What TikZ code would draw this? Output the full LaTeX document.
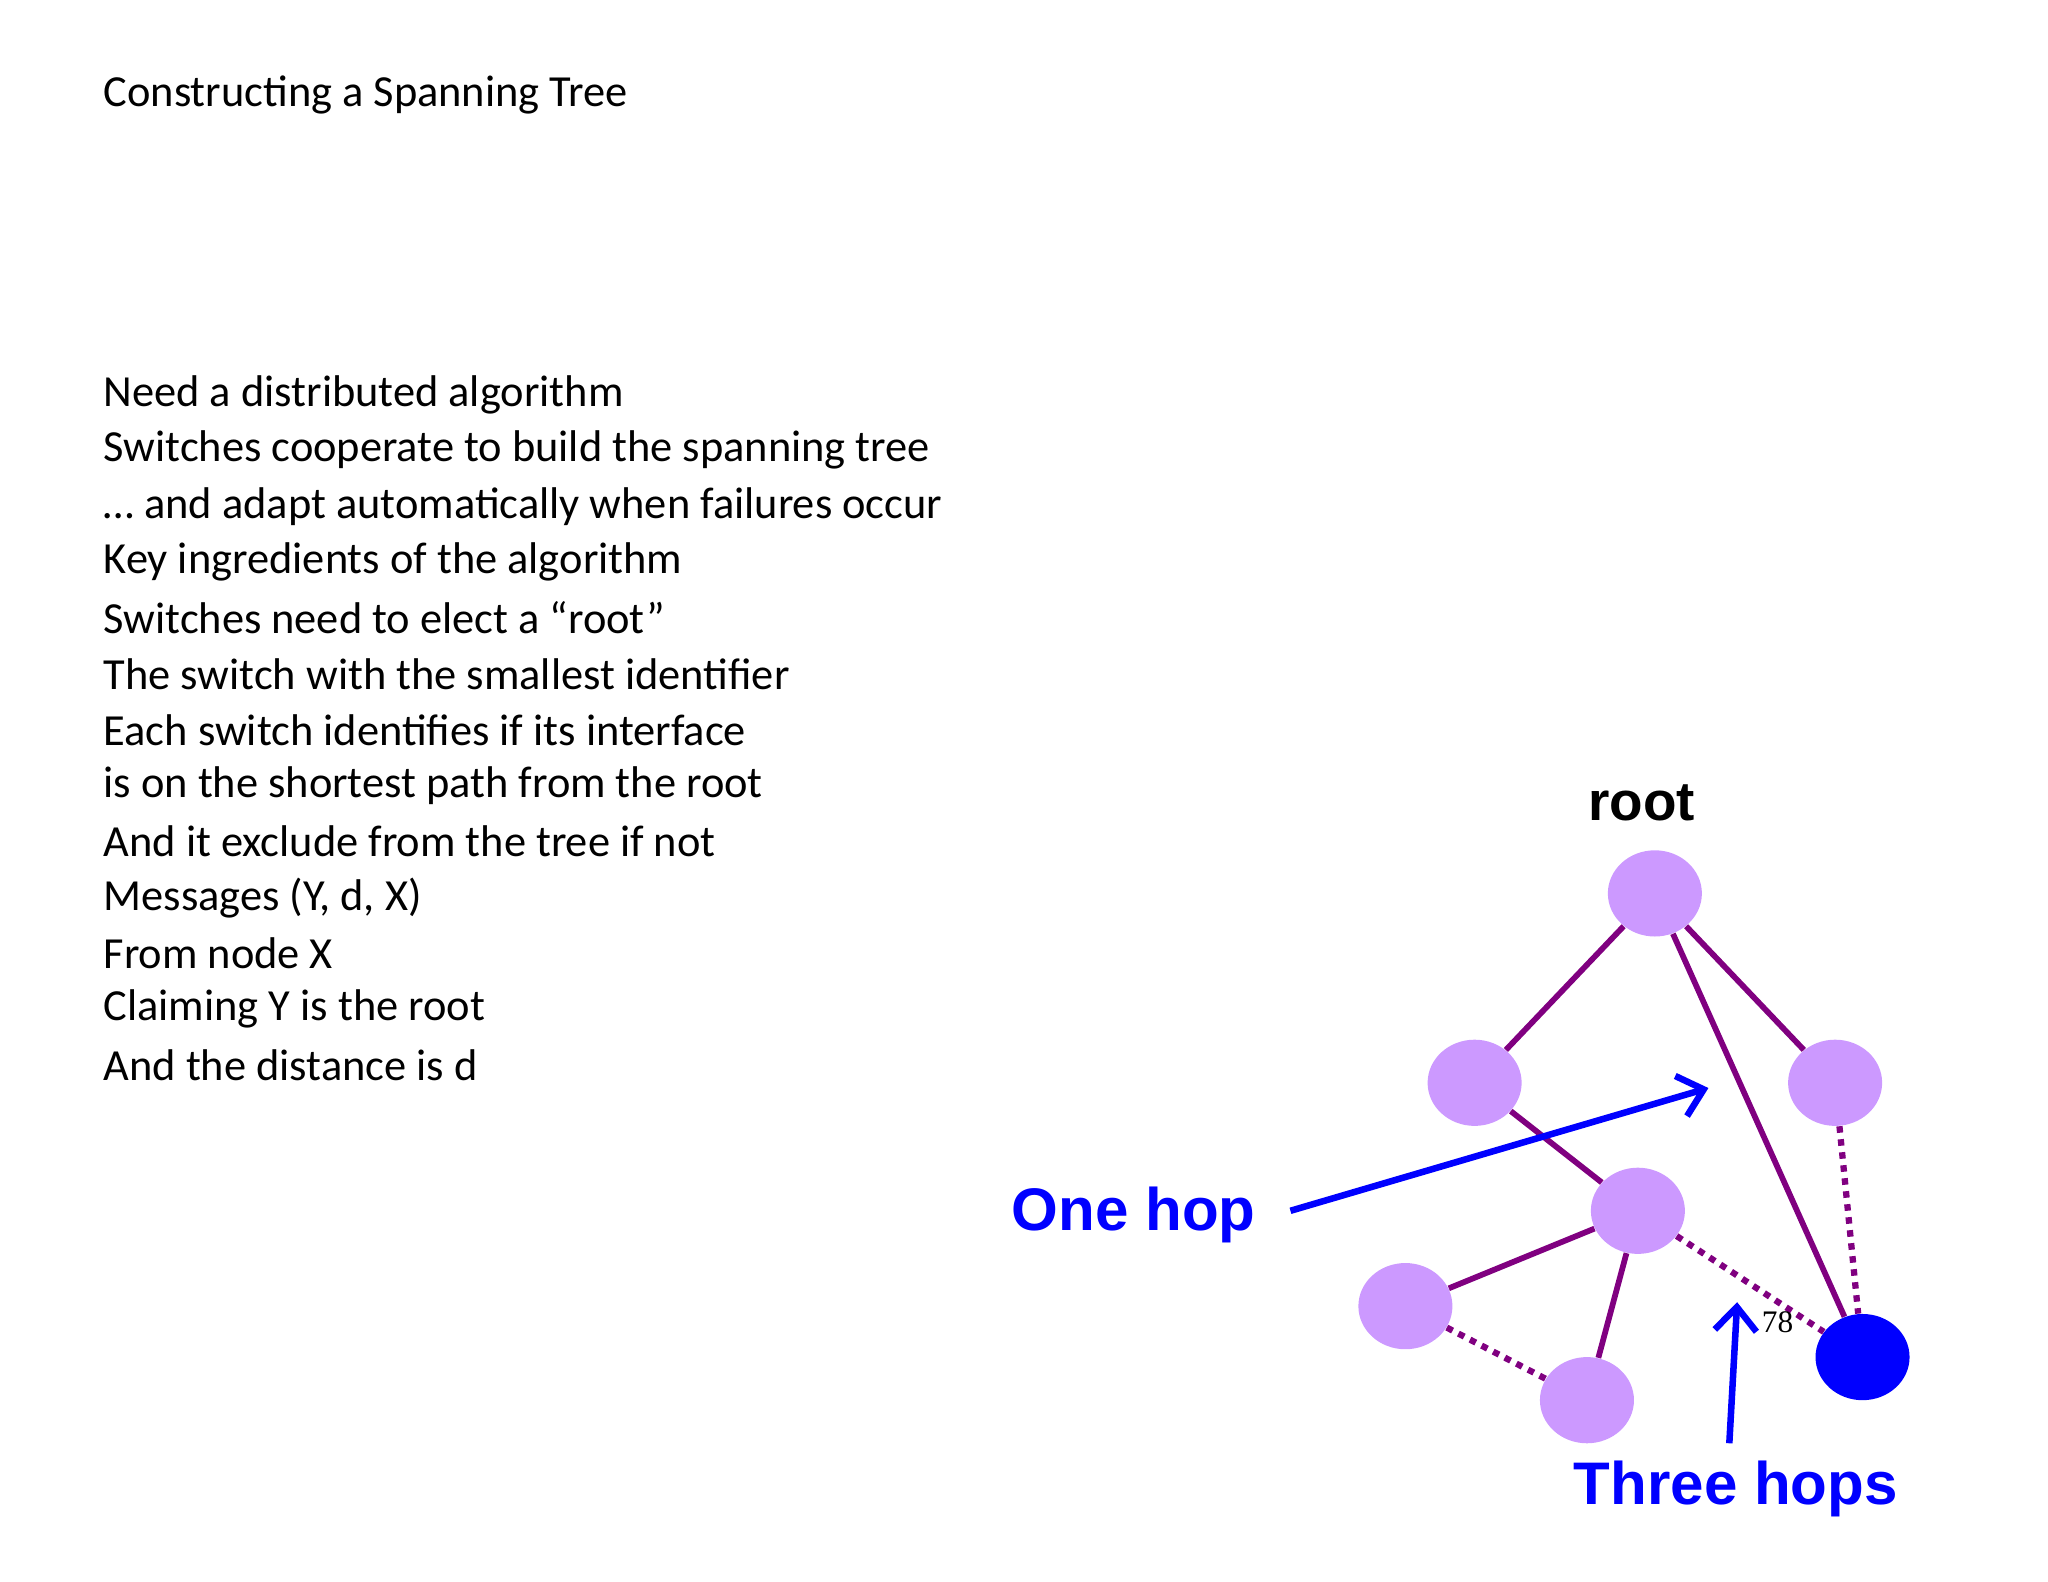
\documentclass[tikz,border=0pt]{standalone}
\usepackage{fontspec}
\setmainfont{Carlito}
\newfontfamily\helv{Liberation Sans}
\newfontfamily\tms{Liberation Serif}
\definecolor{lav}{RGB}{204,153,255}
\definecolor{pur}{RGB}{128,0,128}
\begin{document}
\begin{tikzpicture}[x=0.5pt,y=-0.5pt,
  sw/.style={ellipse,fill=lav,minimum width=36pt,minimum height=33pt,inner sep=0pt},
  edge/.style={pur,line width=2.2pt},
  dedge/.style={pur,line width=2.4pt,dash pattern=on 2.5pt off 2.5pt},
  lbl/.style={blue,font=\helv\bfseries\fontsize{23}{27}\selectfont},
  barrow/.style={blue,line width=2.5pt,-{Straight Barb[length=9pt,width=16pt,line width=2.5pt]}},
  txt/.style={anchor=west,font=\fontsize{17}{21}\selectfont,inner sep=0pt}]
\usetikzlibrary{shapes.geometric,arrows.meta}
\useasboundingbox (0,0) rectangle (1568,1211);
\node[txt] (title) at (79,73) {Constructing a Spanning Tree};
\foreach \t [count=\i from 0] in {Need a distributed algorithm,Switches cooperate to build the spanning tree,{\ldots} and adapt automatically when failures occur,Key ingredients of the algorithm,Switches need to elect a “root”,The switch with the smallest identifier,Each switch identifies if its interface,is on the shortest path from the root,And it exclude from the tree if not,{Messages (Y, d, X)},From node X,Claiming Y is the root,And the distance is d}
  \node[txt] (l\i) at (79,302+42.8*\i) {\t};
\node[sw] (r) at (1267,684) {};
\node[sw] (a) at (1129,829) {};
\node[sw] (b) at (1405,829) {};
\node[sw] (c) at (1254,927) {};
\node[sw] (d) at (1076,1000) {};
\node[sw] (e) at (1215,1072) {};
\node[sw,fill=blue] (f) at (1426,1039) {};
\draw[edge] (r) -- (a);
\draw[edge] (r) -- (b);
\draw[edge] (r) -- (f);
\draw[edge] (a) -- (c);
\draw[edge] (c) -- (d);
\draw[edge] (c) -- (e);
\draw[dedge] (b) -- (f);
\draw[dedge] (c) -- (f);
\draw[dedge] (d) -- (e);
\node[font=\helv\bfseries\fontsize{21}{25}\selectfont] (root) at (1257,615) {root};
\node[lbl] (one) at (868,930) {One hop};
\node[lbl] (three) at (1329,1140) {Three hops};
\coordinate (o1) at (988,927);
\coordinate (o2) at (1308,833);
\coordinate (t1) at (1324,1105);
\coordinate (t2) at (1330,997);
\draw[barrow] (o1) -- (o2);
\draw[barrow] (t1) -- (t2);
\node[font=\tms\fontsize{12}{14}\selectfont] (n78) at (1361,1012) {78};
\end{tikzpicture}
\end{document}
